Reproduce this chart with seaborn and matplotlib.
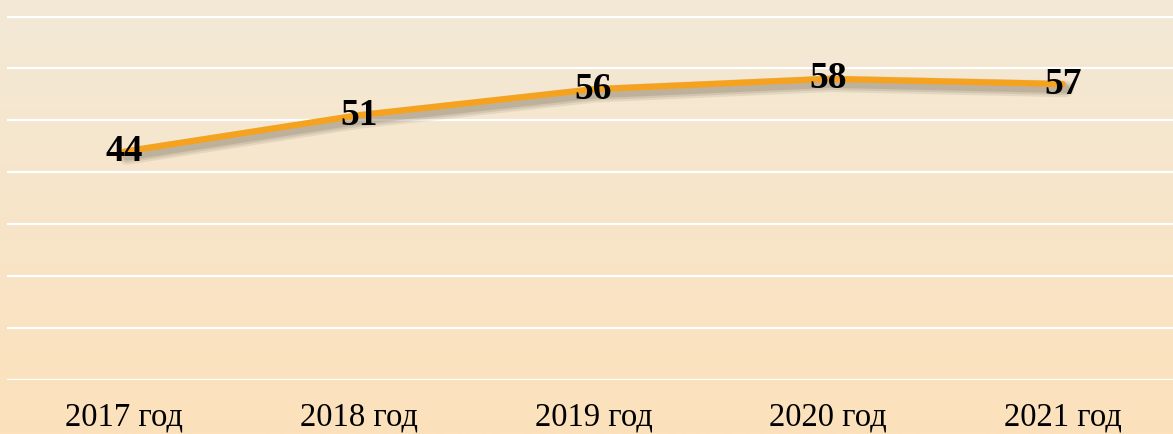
import numpy as np
import matplotlib
matplotlib.use("Agg")
import matplotlib.pyplot as plt
import matplotlib.patheffects as pe
from matplotlib.colors import LinearSegmentedColormap
import seaborn as sns

years = ["2017 год", "2018 год", "2019 год", "2020 год", "2021 год"]
values = [44, 51, 56, 58, 57]

sns.set_style("white")
plt.rcParams["font.family"] = ["Liberation Serif", "DejaVu Serif"]

fig = plt.figure(figsize=(11.73, 4.34), dpi=100)

# gradient background
bg = fig.add_axes([0, 0, 1, 1], zorder=0)
grad = np.linspace(0, 1, 256).reshape(-1, 1)
cmap = LinearSegmentedColormap.from_list("bg", ["#f3e9d7", "#fce1bb"])
bg.imshow(grad, aspect="auto", cmap=cmap, extent=[0, 1, 0, 1], origin="upper")
bg.axis("off")

ax = fig.add_axes([7 / 1173, 54 / 434, 1 - 7 / 1173, 364.5 / 434], zorder=1)
ax.patch.set_alpha(0)

shadow = [pe.SimpleLineShadow(offset=(2, -3.5), shadow_color="#6e6454",
                              alpha=a, linewidth=w)
          for a, w in [(0.12, 12), (0.15, 9), (0.2, 6)]]
sns.lineplot(x=years, y=values, ax=ax, color="#f5a31f", lw=4.5, sort=False,
             path_effects=shadow + [pe.Normal()])

for i, v in enumerate(values):
    ax.text(i, v, str(v), ha="center", va="center", fontsize=27,
            fontweight="bold", color="black", zorder=5)

ax.set_xlim(-0.5, 4.47)
ax.set_ylim(0, 70.2)
ax.set_yticks(range(0, 71, 10))
ax.set_yticklabels([])
ax.grid(axis="y", color="white", lw=1.6)
ax.grid(axis="x", visible=False)
ax.tick_params(axis="both", length=0)
ax.tick_params(axis="x", labelsize=23.5, pad=16, labelcolor="black")
for s in ax.spines.values():
    s.set_visible(False)
ax.set_xlabel("")
ax.set_ylabel("")

fig.savefig("out.png", dpi=100)
